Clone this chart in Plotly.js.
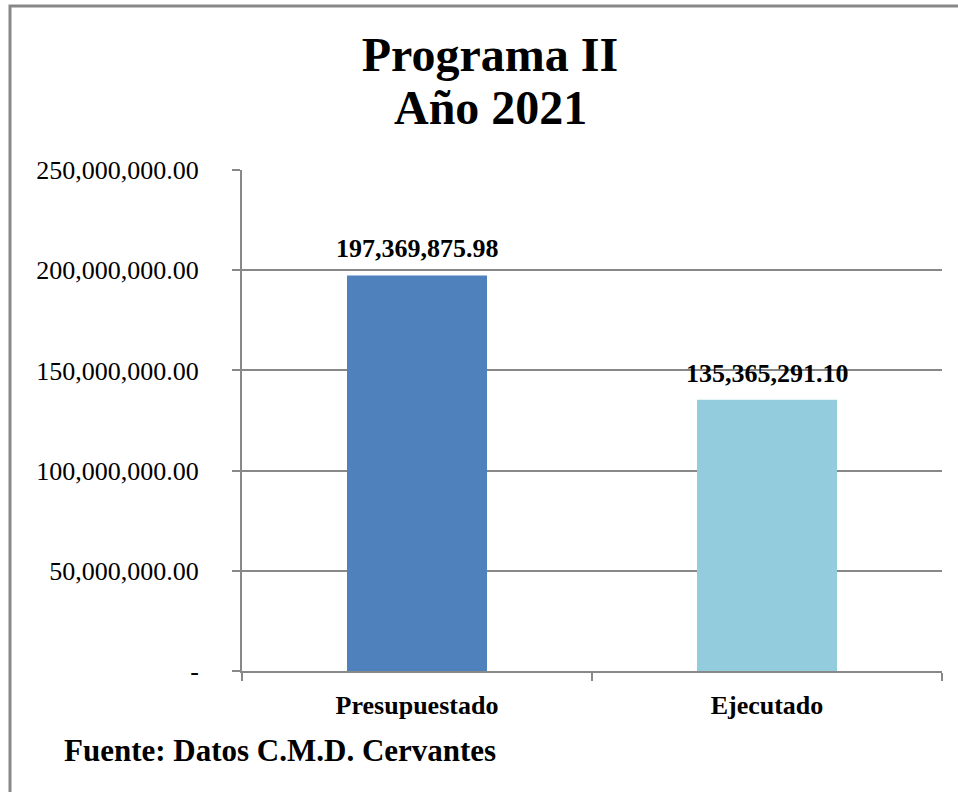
<!DOCTYPE html>
<html>
<head>
<meta charset="utf-8">
<script src="https://cdn.plot.ly/plotly-3.0.1.min.js"></script>
<style>html,body{margin:0;padding:0;background:#fff;}#chart{width:958px;height:792px;}</style>
</head>
<body>
<div id="chart"></div>
<script>
const categories = ["Presupuestado", "Ejecutado"];
const values = [197369875.98, 135365291.10];
const barColors = ["#4F81BD", "#93CDDD"];
const tickVals = [0, 50000000, 100000000, 150000000, 200000000, 250000000];
const tickText = ["-", "50,000,000.00", "100,000,000.00", "150,000,000.00", "200,000,000.00", "250,000,000.00"];
const titleLine1 = "Programa II";
const titleLine2 = "Año 2021";
const sourceText = "Fuente: Datos C.M.D. Cervantes";

const fmt = v => v.toLocaleString("en-US", {minimumFractionDigits: 2, maximumFractionDigits: 2});
const serif = "Liberation Serif, Times New Roman, serif";

const W = 958, H = 792, L = 242, R = 16, T = 170, B = 121;
const pw = W - L - R, ph = H - T - B;
const px = x => (x - L) / pw;
const py = y => (H - B - y) / ph;

const trace = {
  type: "bar",
  x: categories,
  y: values,
  marker: {color: barColors},
  hoverinfo: "none"
};

const labelAnnotations = categories.map((c, i) => ({
  text: "<b>" + fmt(values[i]) + "</b>",
  xref: "x", yref: "y", x: c, y: values[i],
  xanchor: "center", yanchor: "bottom", yshift: 10,
  showarrow: false,
  font: {family: serif, size: 26, color: "#000"}
}));

const layout = {
  width: W, height: H,
  margin: {l: L, r: R, t: T, b: B},
  paper_bgcolor: "#fff",
  plot_bgcolor: "#fff",
  showlegend: false,
  bargap: 0.6,
  title: {
    text: "<b>" + titleLine1 + "</b>",
    font: {family: serif, size: 48, color: "#000"},
    x: px(490), xref: "paper", xanchor: "center",
    y: 1 - 54 / H, yref: "container", yanchor: "middle"
  },
  xaxis: {
    showline: true, linecolor: "#888", linewidth: 2,
    ticks: "outside", tickson: "boundaries", ticklen: 8, tickcolor: "#888", tickwidth: 2,
    showgrid: false,
    tickfont: {family: serif, size: 26, color: "#000", weight: "bold"},
    ticklabelstandoff: 10
  },
  yaxis: {
    range: [0, 250000000],
    tickvals: tickVals, ticktext: tickText,
    showline: true, linecolor: "#888", linewidth: 2,
    ticks: "outside", ticklen: 8, tickcolor: "#888", tickwidth: 2,
    showgrid: true, gridcolor: "#888", gridwidth: 2,
    zeroline: false,
    tickfont: {family: serif, size: 26, color: "#000"},
    ticklabelstandoff: 28
  },
  annotations: labelAnnotations.concat([
    {
      text: "<b>" + titleLine2 + "</b>",
      xref: "paper", yref: "paper",
      x: px(490), y: py(107), xanchor: "center", yanchor: "middle",
      showarrow: false,
      font: {family: serif, size: 48, color: "#000"}
    },
    {
      text: "<b>" + sourceText + "</b>",
      xref: "paper", yref: "paper",
      x: px(62), y: py(750), xanchor: "left", yanchor: "middle",
      showarrow: false,
      font: {family: serif, size: 31, color: "#000"}
    }
  ]),
  shapes: [{
    type: "rect", xref: "paper", yref: "paper",
    x0: px(10), x1: px(1100), y0: py(900), y1: py(6),
    line: {color: "#888", width: 3}, fillcolor: "rgba(0,0,0,0)", layer: "above"
  }]
};

Plotly.newPlot("chart", [trace], layout, {displayModeBar: false, staticPlot: true});
</script>
</body>
</html>
